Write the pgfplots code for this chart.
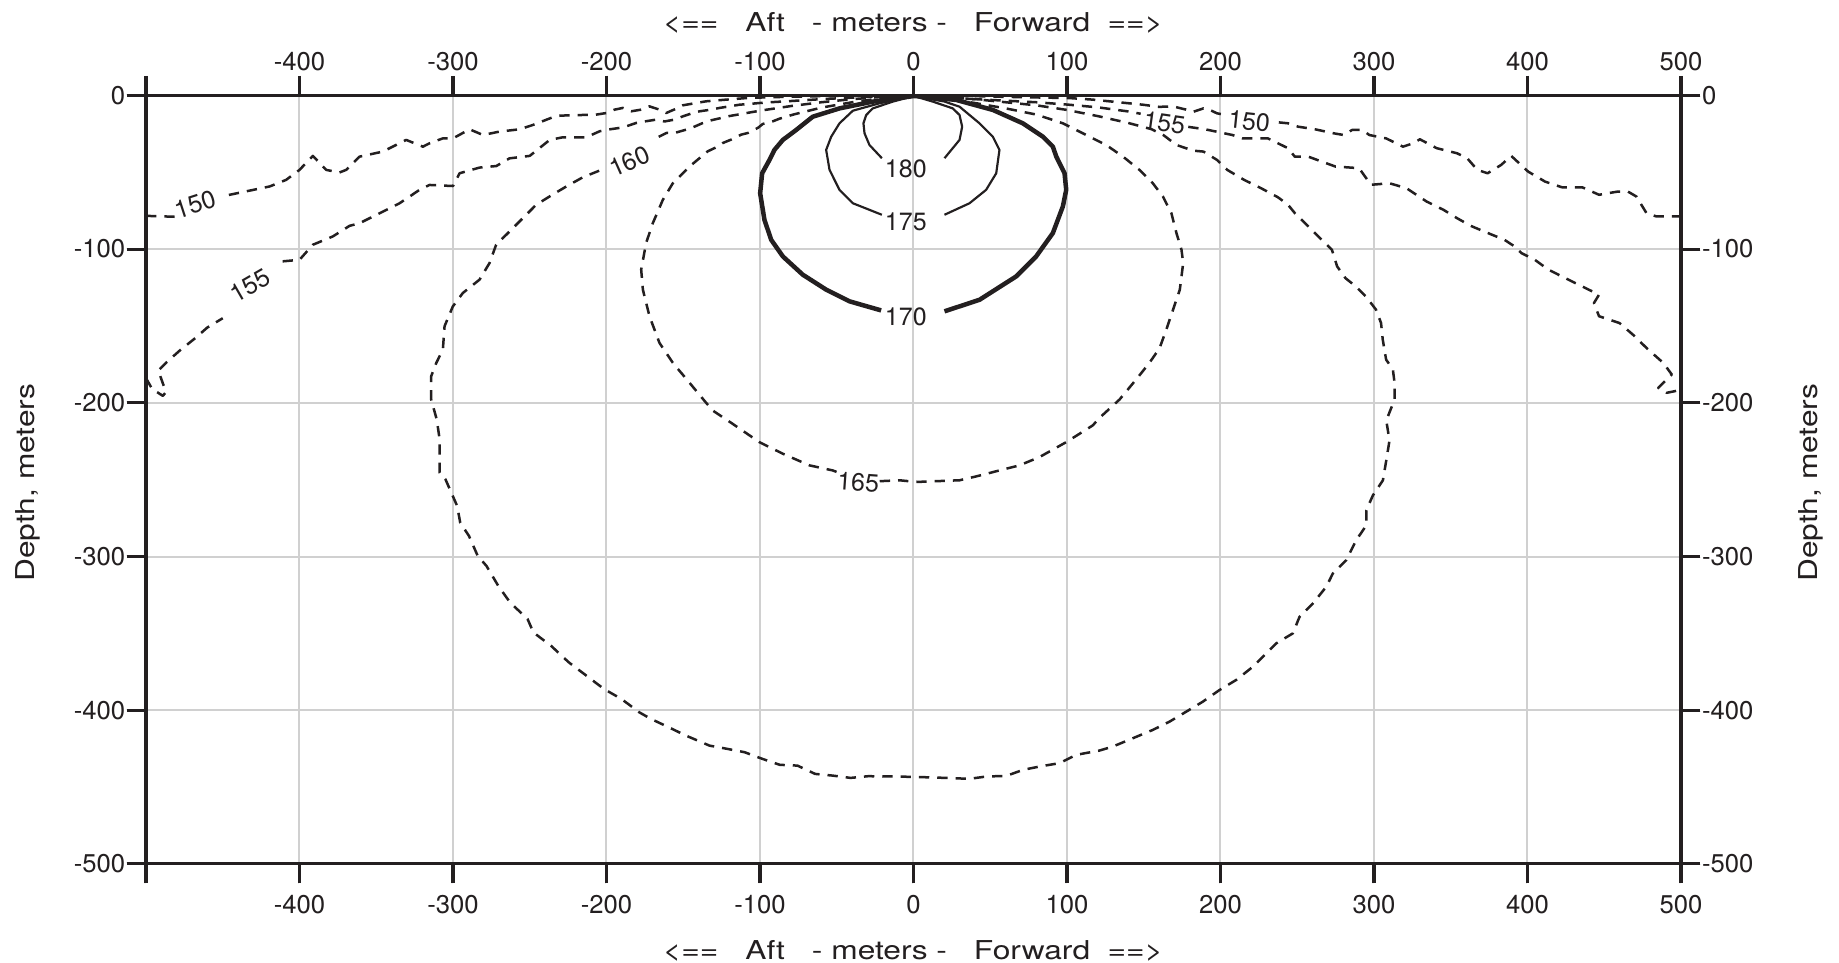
\documentclass[border=0pt]{standalone}
\usepackage{graphicx}
\usepackage{pgfplots}
\pgfplotsset{compat=1.18}
\usepackage{fontspec}
\setmainfont{TeX Gyre Heros}
\definecolor{ink}{RGB}{35,31,32}
\definecolor{gridc}{RGB}{208,208,208}
\newcommand{\ttl}{\fontsize{7.8}{9}\selectfont\scalebox{1.22}[1]{<==\hspace{0.85em}Aft\hspace{0.85em}- meters -\hspace{0.85em}Forward\hspace{0.55em}==>}}
\newcommand{\ylab}{\fontsize{7.8}{9}\selectfont\scalebox{1.22}[1]{Depth, meters}}
\tikzset{clab/.style={font=\fontsize{7.5}{9}\selectfont, text=ink, inner sep=0pt, anchor=center}}
\pgfplotsset{
  base/.style={
    at={(43.8pt,29.7pt)}, anchor=south west,
    scale only axis, width=460.5pt, height=230.6pt,
    xmin=-500, xmax=500, ymin=-500, ymax=0,
    xtick={-500,-400,...,500},
    ytick={-500,-400,...,0},
    xticklabels={,-400,-300,-200,-100,0,100,200,300,400,500},
    yticklabels={-500,-400,-300,-200,-100,0},
    tick align=outside, tick pos=both,
    major tick length=5.8pt,
    every tick/.style={ink, line width=0.9pt},
    axis line style={ink, line width=0.9pt},
    tick label style={font=\fontsize{7.7}{9}\selectfont, text=ink},
    /pgf/number format/assume math mode=true,
  },
  dashc/.style={ink, line width=0.75pt, dash pattern=on 3.1pt off 2.4pt, line join=round},
  thinc/.style={ink, line width=0.65pt, line join=round},
  thickc/.style={ink, line width=1.35pt, line join=round},
}
\begin{document}
\begin{tikzpicture}
\path[use as bounding box] (0,0) rectangle (551.7pt,288.9pt);
\begin{axis}[base, grid=major, grid style={gridc, line width=0.6pt},
  xticklabel pos=lower, yticklabel pos=left,
  yticklabel style={xshift=3.1pt}]
% ---- 150 ----
\addplot[dashc] coordinates {(-500,-78.4) (-481,-79)};
\addplot[dashc] coordinates {(-446,-64.8) (-419.5,-59.3) (-408.7,-55) (-400,-48.5) (-391.3,-39.4) (-382.6,-48.5) (-374,-50.2) (-369.6,-48.5) (-360.9,-39.9) (-345.7,-36.6) (-330.5,-29) (-319.6,-33.4) (-315.3,-31.2) (-306.6,-28) (-300,-28) (-289.2,-22.1) (-280.5,-25.8) (-269.7,-23.6) (-256.6,-22.1) (-248,-19.3) (-232.8,-13.4) (-225,-13) (-207,-12.6) (-200,-11.5) (-194.7,-9.3) (-189.3,-8.2) (-183.9,-10.4) (-177.4,-9.3) (-172,-7.2) (-165.5,-9.3) (-161.1,-11.5) (-153.5,-8.2) (-150.3,-6.5) (-141.6,-5) (-135.1,-3.9) (-122,-2.8) (-109,-1.8) (-96,-1.3) (-79,-0.9) (-57,-0.5) (-30,-0.2) (0,0) (30,-0.3) (60,-1) (101.6,-1.8) (116.8,-2.8) (138.5,-5) (149.4,-6.1) (160,-7.5) (169,-7.2) (177.6,-9.3) (182,-10.8) (188.9,-8.5) (193.3,-9.6) (197.7,-11.7) (203.3,-12.8)};
\addplot[dashc] coordinates {(238,-17.6) (244,-18.2) (250.6,-20.4) (261.6,-22.1) (273.7,-24.7) (280.3,-25.8) (285.8,-22.5) (292.5,-22.5) (296.9,-25.8) (307.9,-28) (318.9,-33.4) (325.5,-31.2) (329.9,-28.6) (340.9,-34.4) (354.1,-37.7) (360.7,-40.9) (367.3,-48.5) (374,-50.7) (382.8,-45.3) (389.4,-39.4) (400.4,-49.6) (411.4,-56.1) (422.4,-59.8) (435.6,-59.8) (446.6,-64.7) (458.8,-62.6) (465.4,-62.6) (470.9,-65.8) (477.5,-76.6) (484.1,-78.8) (500,-78.8)};
% ---- 155 ----
\addplot[dashc] coordinates {(-500,-184) (-496,-191) (-489,-195.5) (-487,-193) (-492,-179) (-487,-174) (-478,-166) (-468,-158) (-460,-151) (-450,-145)};
\addplot[dashc] coordinates {(-411,-108) (-400,-107) (-391.3,-97.2) (-378.3,-91.8) (-367.4,-84.9) (-360.9,-83.2) (-347.8,-76.7) (-334.8,-70.2) (-321.8,-61.5) (-315.3,-58.3) (-300,-59) (-295.7,-50.7) (-282.7,-47) (-271.8,-46) (-263.2,-41) (-250,-39.4) (-237,-29) (-228.4,-27.3) (-213.2,-27.3) (-204.5,-23.4) (-199.1,-22.3) (-191.5,-21.2) (-187.2,-20.2) (-180.7,-18) (-175.2,-17) (-167.6,-15.8) (-162.2,-17) (-155.7,-15.8) (-150.3,-13.7) (-143.7,-11.5) (-139.4,-10.4) (-131.8,-9.3) (-126.4,-8.2) (-119.9,-7.2) (-113.3,-6.1) (-106.8,-5.6) (-100.3,-5) (-91.6,-4.4) (-82.9,-3.9) (-60,-2.5) (-30,-1) (0,0) (40,-2.5) (80,-4.5) (100,-6) (120,-7.8) (140,-10.5) (148,-12)};
\addplot[dashc] coordinates {(179,-20.5) (190,-22.1) (207.7,-25.8) (214.3,-28) (230.8,-28) (244,-34.4) (248.4,-39.9) (257.2,-39.9) (274.8,-46.3) (290.3,-47.4) (298,-58.2) (310.1,-57.2) (321.1,-60.4) (334.3,-69.1) (345.3,-74.5) (354.1,-79.9) (363,-84.9) (371.8,-88.6) (385,-94) (391.6,-98.3) (396,-102.6) (404.8,-107) (413.6,-113.4) (424.6,-118.9) (435.6,-124.3) (446.6,-129.7) (443.3,-135.1) (446.6,-143.7) (459.9,-148.1) (468.7,-155.7) (477.5,-164.3) (488.5,-174.1) (494,-181.6) (485.2,-190.3) (490.7,-193.5) (496.2,-192.4) (500,-191)};
% ---- 160 ----
\addplot[dashc] coordinates {(-166,-27) (-161,-24.5) (-155.7,-24.5) (-148,-22.3) (-143.7,-20.8) (-137.2,-18) (-132.9,-16.5) (-120,-13.5) (-100,-10) (-80,-7) (-60,-4.5) (-40,-2.5) (-20,-1) (0,0) (40,-2.5) (80,-6.5) (100,-9.5) (120,-13.5) (140,-18) (155,-22) (163,-26) (171.3,-32.3) (182.3,-36) (188.9,-36.6) (197.7,-42) (204.4,-48.5) (215.4,-55) (226.4,-60.4) (237.4,-66.3) (244,-71.2) (248.4,-76.6) (257.2,-85.3) (266,-94) (272.6,-100.5) (276,-111.3) (281.4,-118.9) (288.1,-124.3) (294.7,-130.8) (301.3,-139.4) (304.6,-148.1) (305.7,-158.9) (307.9,-171.9) (312.3,-178.4) (313.4,-187) (313.4,-197.9) (312.3,-200.7) (308,-211.5) (310.1,-224.5) (308,-237.5) (305.8,-250.4) (299.3,-260.2) (295,-269.9) (295,-279.7) (288.4,-289.4) (281.9,-302.4) (273.2,-311) (268.9,-319.7) (260.2,-330.5) (251.5,-339.2) (247.1,-350) (236.3,-356.5) (229.8,-363) (221.1,-371.7) (210.2,-380.3) (199.4,-386.8) (188.5,-394.4) (177.7,-400.9) (166.8,-407.4) (155.9,-412.8) (142.9,-418.2) (129.9,-423.6) (121.2,-426.2) (106,-429) (95.1,-434.4) (82.1,-436.6) (71.3,-438.8) (60.4,-442.7) (47.4,-443.1) (36.5,-444.6) (12.6,-443.7) (-10.5,-443.1) (-29.6,-442.9) (-41,-444) (-52.7,-442.5) (-64.1,-441.4) (-75.6,-436) (-87.1,-435.5) (-98.5,-431.6) (-110,-427.3) (-121.4,-425.1) (-132.9,-423) (-148.2,-416.5) (-159.6,-411) (-171.1,-405.6) (-178.7,-401.3) (-190.2,-392.7) (-201.6,-386.2) (-213.1,-377.5) (-224.6,-368.8) (-236.1,-358.1) (-247.6,-349.4) (-251.4,-340.7) (-262.8,-329.9) (-270.5,-319.1) (-278.2,-306.1) (-283.9,-299.6) (-289.6,-286.6) (-295.3,-277.9) (-297.3,-267.1) (-304.9,-249.8) (-308.7,-245.5) (-308.7,-223.8) (-310.6,-210.8) (-314.2,-197.9) (-314.2,-182.7) (-310.9,-174.1) (-306.6,-165.4) (-305.5,-150.2) (-300.1,-137.3) (-293.6,-128.6) (-282.7,-119.9) (-276.2,-109.1) (-271.9,-97.2) (-263.2,-88.6) (-254.5,-79.9) (-245.8,-71.2) (-237.1,-65.8) (-226.2,-59.3) (-215.4,-53.3) (-203.4,-48.5)};
% ---- 165 ----
\addplot[dashc] coordinates {(-22,-251) (-9.1,-250.4) (1.8,-251.5) (30,-250.4) (40.8,-247.9) (56,-244) (69,-240.7) (82.1,-235.3) (99.5,-225.6) (116.8,-214.7) (121.2,-209.8) (134.2,-197.9) (145,-184.9) (153.7,-174) (160.3,-164.5) (164.7,-152.4) (169.1,-139.4) (173.5,-126.4) (175.7,-109.1) (174.6,-100.5) (171.3,-89.6) (168,-76.6) (164.7,-70.2) (162.5,-65.8) (155.9,-57.2) (147.2,-48.5) (136.4,-39.8) (125.5,-32.3) (110.3,-24.7) (97.3,-18.2) (80,-12.5) (60,-8.5) (40,-5) (20,-2) (0,0) (-20,-1.8) (-40,-4.5) (-60,-8) (-74.3,-11.5) (-78.6,-12.6) (-87.3,-15.2) (-91.6,-16.9) (-98.1,-18.6) (-101.4,-21.2) (-107.9,-24.5) (-112.3,-25.6) (-118.8,-28.8) (-124.2,-31) (-128.5,-33.8) (-134,-36.4) (-145.9,-46.3) (-156.8,-57.2) (-163.3,-68) (-169.8,-83.1) (-174.2,-96.1) (-177.4,-113.4) (-176.3,-126.4) (-172,-143.7) (-165.5,-161) (-156.8,-174) (-145.9,-187) (-135.1,-200) (-130.8,-205) (-117.8,-213.7) (-100.4,-225.6) (-85.2,-233.1) (-67.8,-240.7) (-52.6,-244) (-50,-245)};
% ---- 170 ----
\addplot[thickc] coordinates {(-21.1,-139.9) (-41.7,-134) (-56.9,-126.4) (-72.1,-116.7) (-85.1,-104.8) (-92.7,-94) (-97.1,-81) (-99.9,-63.7) (-98.6,-50.7) (-93.8,-42) (-90.6,-35.5) (-85.1,-29) (-76.4,-22.5) (-65.6,-13.9) (-48.2,-8.5) (-26.5,-4.1) (0,-0.5) (1.7,-0.5) (27.8,-3) (51.7,-9.5) (71.2,-18.2) (84.3,-26.9) (90.8,-33.4) (93,-39.8) (98.4,-50.7) (99.5,-61.5) (97.3,-72.3) (90.8,-89.6) (79.9,-104.8) (66.9,-117.8) (43,-133) (20.2,-140.5)};
% ---- 175 ----
\addplot[thinc] coordinates {(-20.6,-77.7) (-39.5,-70.2) (-48.2,-61.5) (-54.7,-48.5) (-56.9,-35.5) (-53.6,-26.9) (-48.2,-18.2) (-39.5,-10) (-22.2,-5.2) (-1.5,-0.9) (1.7,-0.9) (20,-4) (30,-7.4) (43,-18.2) (51.7,-26.9) (56,-35.5) (53.9,-50.7) (47.3,-61.5) (36.5,-70.2) (20.2,-77.7)};
% ---- 180 ----
\addplot[thinc] coordinates {(-20.6,-40.9) (-28.7,-32.3) (-31.9,-24.7) (-32.6,-18.2) (-30.8,-12.8) (-26.5,-8.5) (-13.5,-4.1) (-1.5,-0.9) (1.7,-0.9) (12.6,-4.1) (25.6,-8.5) (30,-12.8) (31.7,-20.4) (30,-29) (20.2,-40.9)};
% ---- labels ----
\node[clab, rotate=18] at (axis cs:-468,-71) {150};
\node[clab, rotate=30] at (axis cs:-432,-124) {155};
\node[clab, rotate=24] at (axis cs:-185,-43) {160};
\node[clab, rotate=-8] at (axis cs:163.5,-18) {155};
\node[clab, rotate=-6] at (axis cs:218.7,-17) {150};
\node[clab, rotate=-4] at (axis cs:-36,-251.5) {165};
\node[clab] at (axis cs:-5,-47.5) {180};
\node[clab] at (axis cs:-5,-82) {175};
\node[clab] at (axis cs:-5,-144) {170};
\end{axis}
\begin{axis}[base, xticklabel pos=upper, yticklabel pos=right,
  xticklabel style={yshift=-2.1pt}, yticklabel style={xshift=-3pt}]
\end{axis}
\node[anchor=base, inner sep=0pt, text=ink] at (273.9pt,279.3pt) {\ttl};
\node[anchor=base, inner sep=0pt, text=ink] at (273.9pt,0.9pt) {\ttl};
\node[rotate=90, anchor=base, inner sep=0pt, text=ink] at (10.2pt,144.1pt) {\ylab};
\node[rotate=90, anchor=base, inner sep=0pt, text=ink] at (545.1pt,144.1pt) {\ylab};
\end{tikzpicture}
\end{document}
